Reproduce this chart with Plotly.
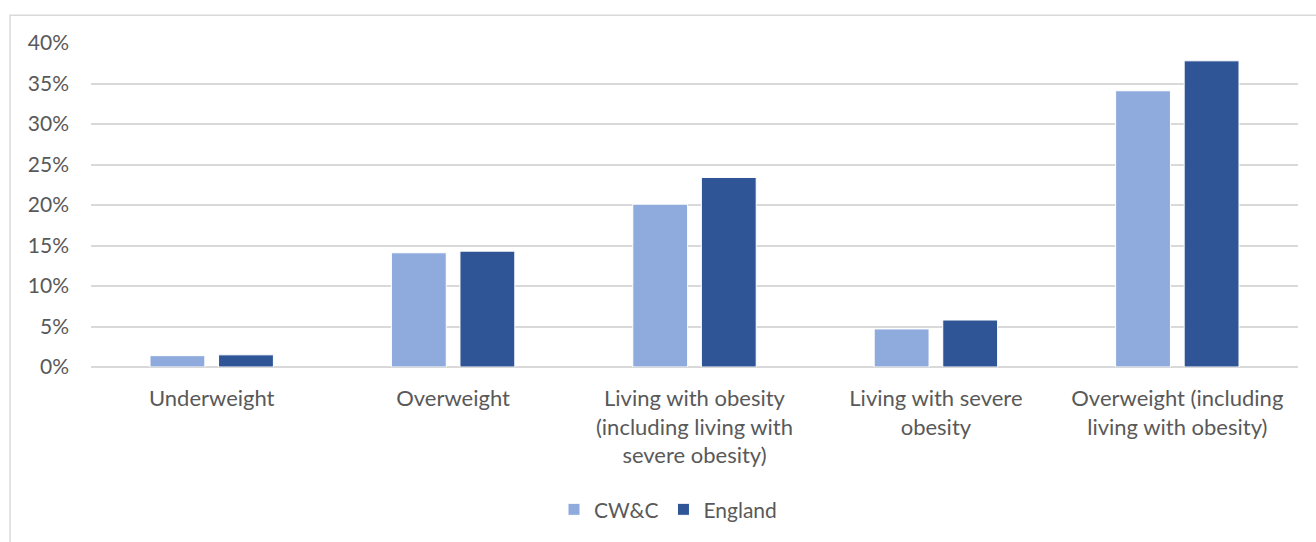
import plotly.graph_objects as go

categories = [
    "Underweight",
    "Overweight",
    "Living with obesity<br>(including living with<br>severe obesity)",
    "Living with severe<br>obesity",
    "Overweight (including<br>living with obesity)",
]
cwc = [1.4, 14.1, 20.1, 4.7, 34.1]
england = [1.5, 14.3, 23.4, 5.8, 37.8]
y_ticks = [0, 5, 10, 15, 20, 25, 30, 35, 40]
y_tick_labels = [f"{v}%" for v in y_ticks]

FONT = "Lato, 'Open Sans', sans-serif"
TXT = "#595959"

fig = go.Figure()
fig.add_trace(go.Bar(name="CW&C", x=categories, y=cwc,
                     marker=dict(color="#8FAADC", line=dict(color="#FFFFFF", width=1))))
fig.add_trace(go.Bar(name="England", x=categories, y=england,
                     marker=dict(color="#2F5597", line=dict(color="#FFFFFF", width=1))))

L, R, T, B = 91, 18, 43, 172
W, H = 1316, 542
pw = W - L - R
ph = H - T - B

fig.update_layout(
    width=W, height=H,
    margin=dict(l=L, r=R, t=T, b=B, pad=0),
    paper_bgcolor="white", plot_bgcolor="white",
    barmode="group", bargap=0.432, bargroupgap=0.2,
    font=dict(family=FONT, size=21, color=TXT),
    showlegend=True,
    legend=dict(orientation="h", x=(668 - L) / pw, xanchor="center",
                y=(H - B - 514) / ph, yanchor="middle",
                font=dict(size=21, color=TXT), itemwidth=30,
                traceorder="normal"),
    xaxis=dict(showgrid=False, showline=False, ticks="", tickfont=dict(size=22, color=TXT),
               ticklabelstandoff=16),
    yaxis=dict(range=[0, 40], tickvals=y_ticks, ticktext=y_tick_labels,
               showgrid=True, gridcolor="#D9D9D9", gridwidth=1.5,
               zeroline=True, zerolinecolor="#D9D9D9", zerolinewidth=1.5,
               showline=False, ticks="", tickfont=dict(size=21, color=TXT),
               ticklabelstandoff=21),
    shapes=[dict(type="rect", xref="paper", yref="paper",
                 x0=(10 - L) / pw, x1=(W + 20 - L) / pw,
                 y0=(H - B - (H + 20)) / ph, y1=(H - B - 15) / ph,
                 line=dict(color="#D9D9D9", width=1.5), fillcolor="rgba(0,0,0,0)",
                 layer="below")],
)

fig.write_html("out.html")
